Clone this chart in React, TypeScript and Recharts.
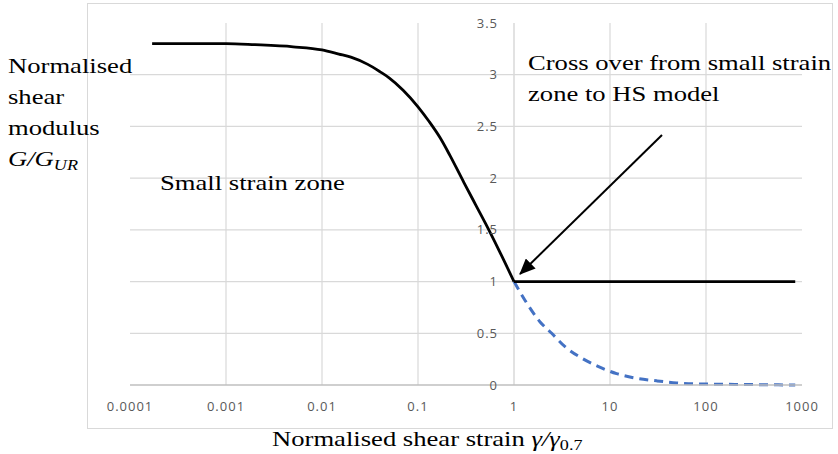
import React from "react";
import {
  LineChart,
  Line,
  XAxis,
  YAxis,
  ReferenceLine,
  ReferenceDot,
} from "recharts";

// black curve: small strain stiffness down to the cross over point
const smallStrainX = [0.00017, 0.001, 0.002, 0.005, 0.01, 0.015, 0.02, 0.03, 0.04, 0.05, 0.07, 0.1, 0.13, 0.17, 0.215, 0.3, 0.4, 0.5, 0.7, 1];
const smallStrainY = [3.3, 3.3, 3.29, 3.27, 3.24, 3.2, 3.17, 3.1, 3.03, 2.97, 2.85, 2.69, 2.55, 2.39, 2.22, 1.96, 1.74, 1.57, 1.3, 1];

// black flat part: HS model stiffness beyond gamma/gamma0.7 = 1
const hsX = [1, 10, 100, 850];
const hsY = [1, 1, 1, 1];

// blue dashed: continuation of the small strain curve past the cross over
const tailX = [1, 1.3, 1.87, 2.47, 3.4, 5.07, 7.5, 11.7, 18.9, 30.6, 49.5, 86.6, 200, 400, 850];
const tailY = [1, 0.82, 0.61, 0.5, 0.37, 0.26, 0.18, 0.11, 0.065, 0.04, 0.02, 0.01, 0.006, 0.003, 0.0];

const xTicks = [0.0001, 0.001, 0.01, 0.1, 1, 10, 100, 1000];
const xGrid = [0.001, 0.01, 0.1, 10, 100];
const yTicks = [0, 0.5, 1, 1.5, 2, 2.5, 3, 3.5];
const yGrid = [0.5, 1, 1.5, 2, 2.5, 3];

const curveData = smallStrainX.map((x, i) => ({ x, y: smallStrainY[i] }));
const hsData = hsX.map((x, i) => ({ x, y: hsY[i] }));
const blueData = tailX.map((x, i) => ({ x, y: tailY[i] }));

const GRID = "#d9d9d9";
const TICK = "#595959";
const serif = "'Liberation Serif', 'Times New Roman', serif";
const tickFont = "'Open Sans', sans-serif";

const textStyle: React.CSSProperties = {
  position: "absolute",
  fontFamily: serif,
  fontSize: 22,
  color: "#000",
  whiteSpace: "nowrap",
  lineHeight: "31px",
  transform: "scaleX(1.21)",
  transformOrigin: "left top",
};

export default function App() {
  return (
    <div style={{ position: "absolute", left: 0, top: 0, width: 838, height: 454, background: "#fff" }}>
      <div
        style={{
          position: "absolute",
          left: 87,
          top: 3,
          width: 746,
          height: 426,
          border: `1px solid ${GRID}`,
          boxSizing: "border-box",
        }}
      />
      <div style={{ position: "absolute", left: 0, top: 0 }}>
        <LineChart
          width={838}
          height={454}
          margin={{ top: 23, right: 36, left: 130, bottom: 39 }}
        >
          <XAxis
            dataKey="x"
            type="number"
            scale="log"
            domain={[0.0001, 1000]}
            ticks={xTicks}
            allowDataOverflow
            tickFormatter={(v: number) => String(v)}
            tick={{ fill: TICK, fontSize: 13, fontFamily: tickFont, letterSpacing: 1 }}
            tickLine={false}
            axisLine={{ stroke: "#bfbfbf", strokeWidth: 1.5 }}
            tickMargin={11}
            height={30}
          />
          <YAxis type="number" domain={[0, 3.5]} ticks={yTicks} hide />
          {yGrid.map((v) => (
            <ReferenceLine key={`hy-${v}`} y={v} stroke={GRID} strokeWidth={1.2} />
          ))}
          {xGrid.map((v) => (
            <ReferenceLine key={`vx-${v}`} x={v} stroke={GRID} strokeWidth={1.2} />
          ))}
          <ReferenceLine x={1} stroke={GRID} strokeWidth={1.5} />
          {yTicks.map((v) => (
            <ReferenceDot
              key={`yl-${v}`}
              x={1}
              y={v}
              r={0}
              fill="none"
              stroke="none"
              label={{
                value: String(v),
                position: "left",
                offset: 16,
                fill: TICK,
                fontSize: 13,
                fontFamily: tickFont,
                letterSpacing: 1,
              }}
            />
          ))}
          <Line
            data={blueData}
            dataKey="y"
            type="monotone"
            stroke="#4472c4"
            strokeWidth={3}
            strokeDasharray="9 6"
            dot={false}
            isAnimationActive={false}
          />
          <Line
            data={curveData}
            dataKey="y"
            type="monotone"
            stroke="#000"
            strokeWidth={2.8}
            dot={false}
            isAnimationActive={false}
          />
          <Line
            data={hsData}
            dataKey="y"
            type="linear"
            stroke="#000"
            strokeWidth={2.8}
            dot={false}
            isAnimationActive={false}
          />
        </LineChart>
      </div>
      <svg
        width={838}
        height={454}
        style={{ position: "absolute", left: 0, top: 0, pointerEvents: "none" }}
      >
        <defs>
          <marker id="head" markerWidth="16" markerHeight="14" refX="15" refY="7" orient="auto" markerUnits="userSpaceOnUse">
            <path d="M0,0 L16,7 L0,14 z" fill="#000" />
          </marker>
        </defs>
        <line x1={662} y1={135} x2={520} y2={274} stroke="#000" strokeWidth={2} markerEnd="url(#head)" />
      </svg>
      <div style={{ ...textStyle, left: 8, top: 50 }}>
        Normalised
        <br />
        shear
        <br />
        modulus
        <br />
        <span style={{ fontStyle: "italic" }}>
          G/G<sub style={{ fontSize: 15, verticalAlign: "-4px" }}>UR</sub>
        </span>
      </div>
      <div style={{ ...textStyle, left: 160, top: 167 }}>Small strain zone</div>
      <div style={{ ...textStyle, left: 528, top: 47 }}>
        Cross over from small strain
        <br />
        zone to HS model
      </div>
      <div style={{ ...textStyle, left: 272, top: 423 }}>
        Normalised shear strain{" "}
        <span style={{ fontStyle: "italic" }}>
          γ/γ<sub style={{ fontSize: 15, fontStyle: "normal", verticalAlign: "-4px" }}>0.7</sub>
        </span>
      </div>
    </div>
  );
}
